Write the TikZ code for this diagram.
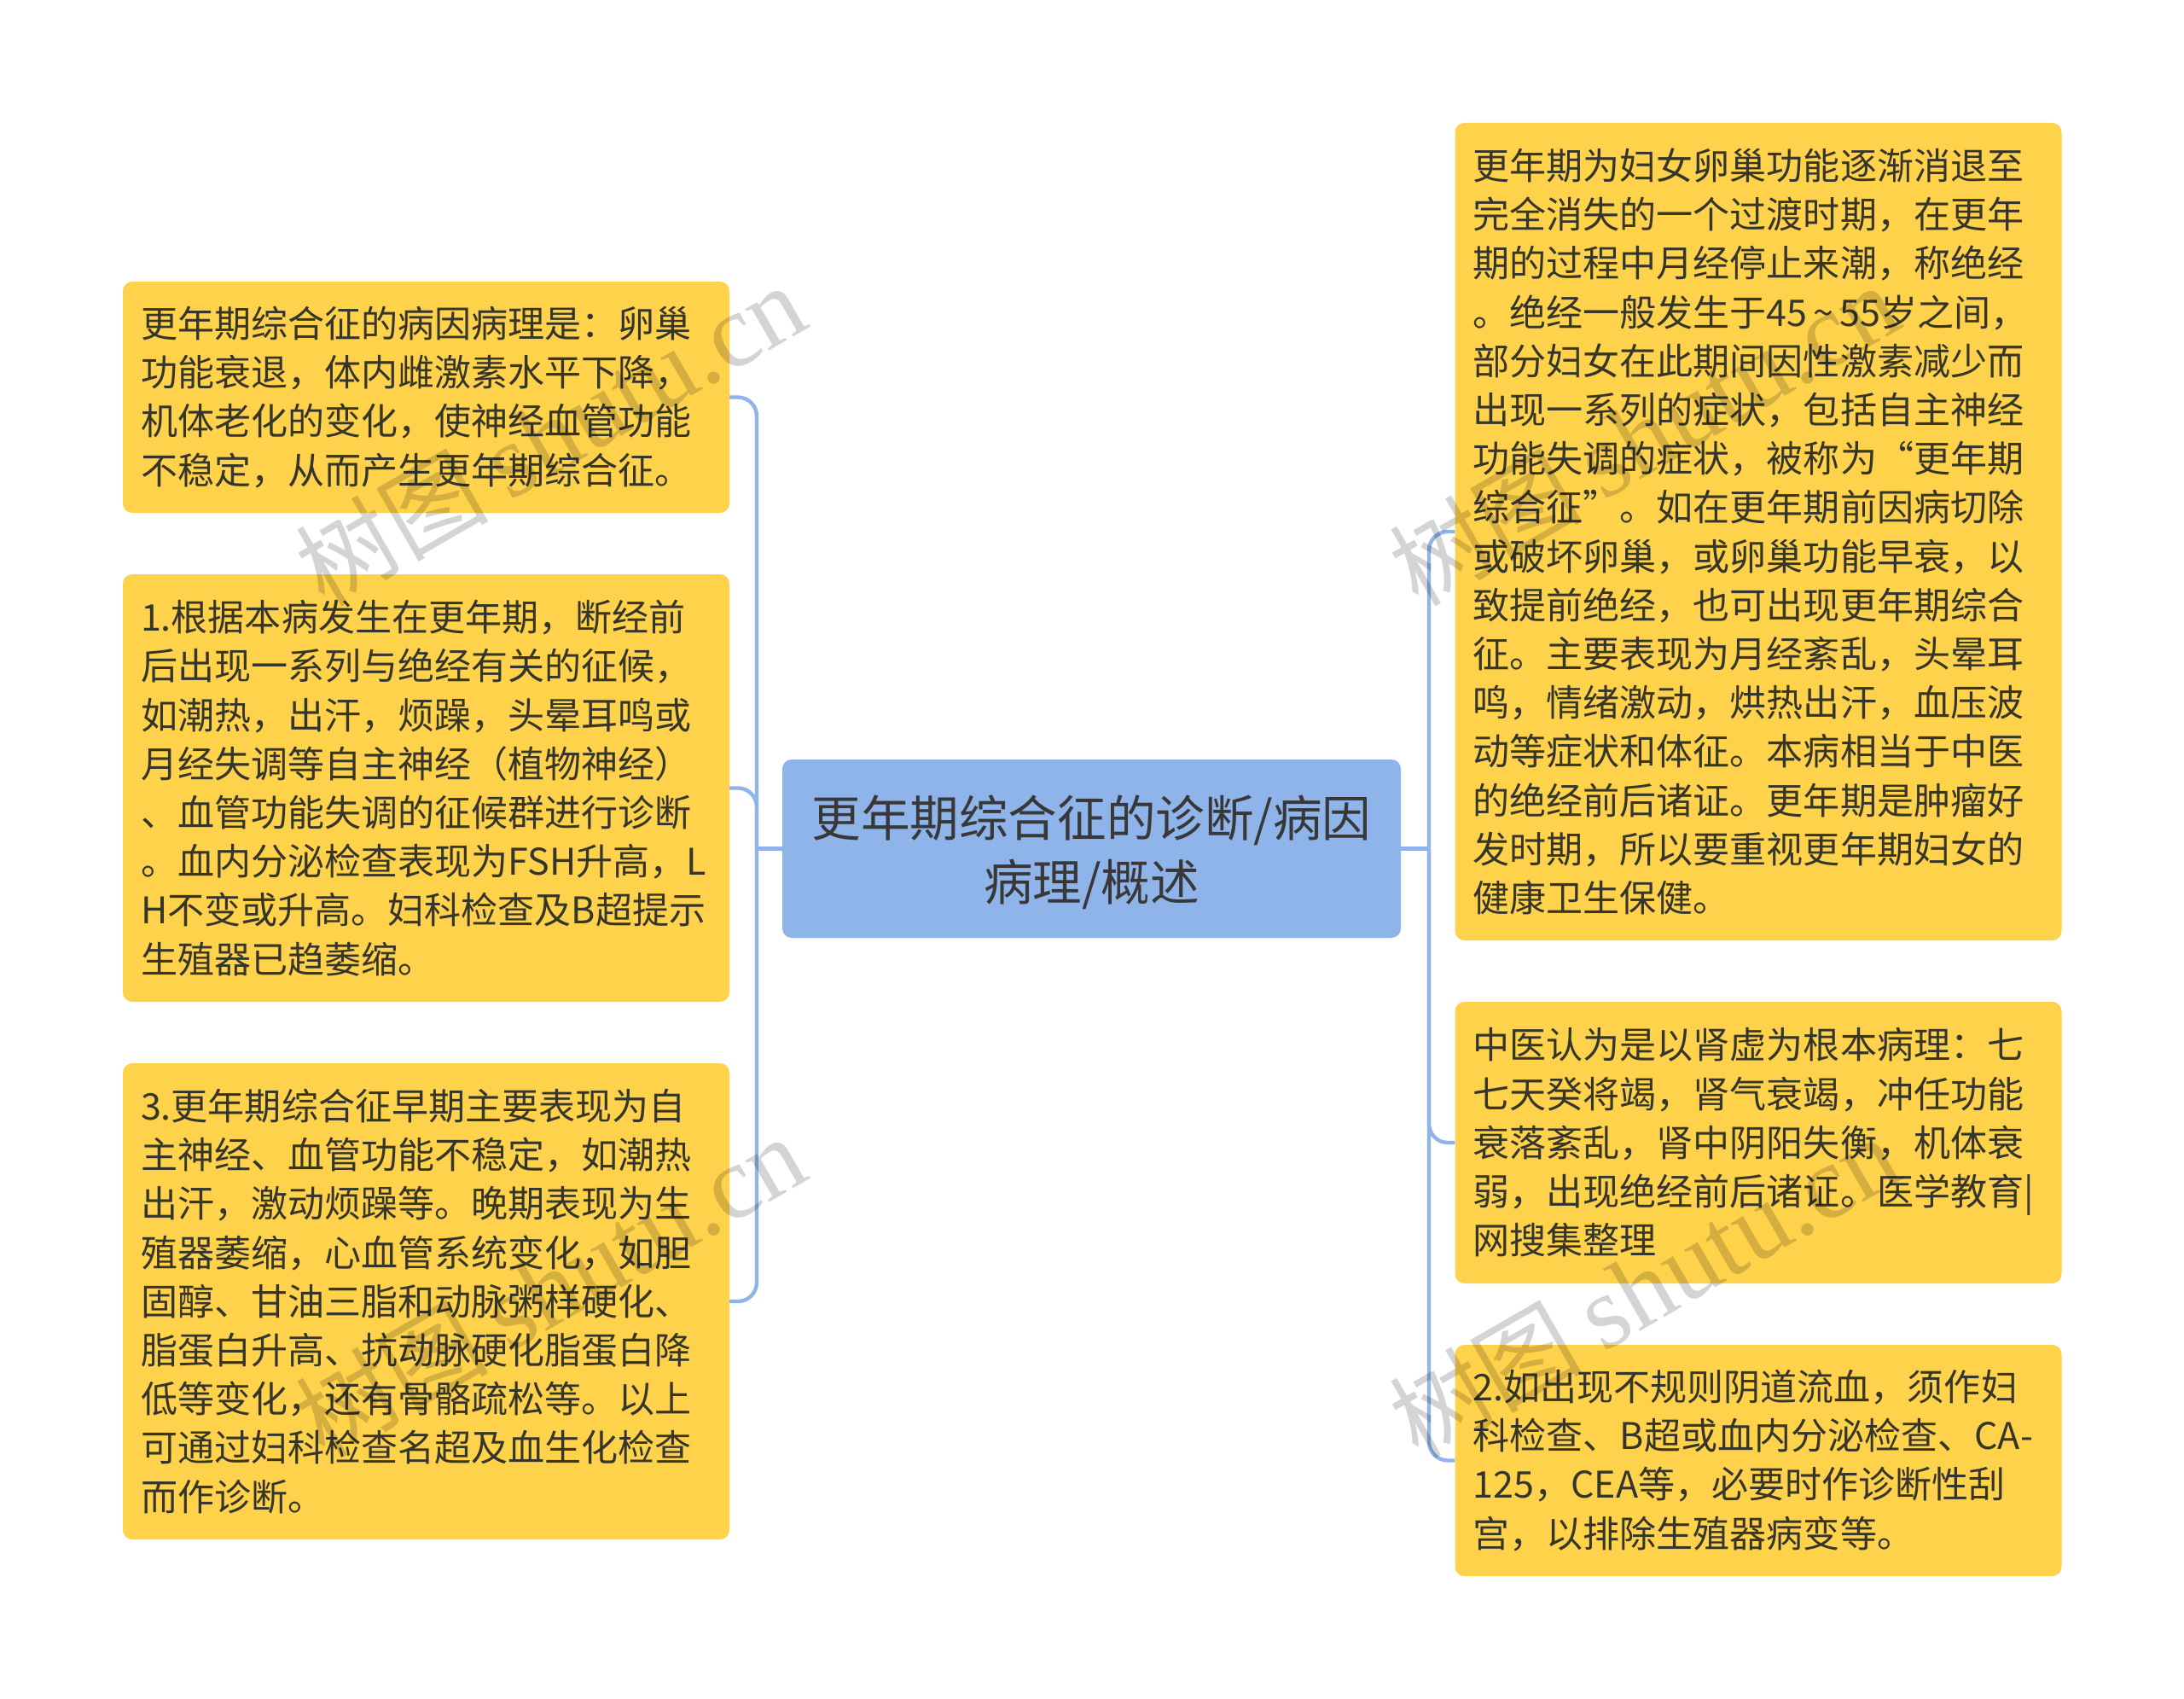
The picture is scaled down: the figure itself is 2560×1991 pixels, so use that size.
\documentclass[tikz,border=0pt]{standalone}
\usepackage{fontspec}
\setmainfont{Noto Sans CJK SC}
\newfontfamily\wmcjk{Noto Sans CJK SC}
\newfontfamily\wmlat{Liberation Serif}
\definecolor{leaf}{HTML}{FFD24C}
\definecolor{rootc}{HTML}{8FB4EA}
\definecolor{inkc}{HTML}{35352A}
\tikzset{
  leafshape/.style={fill=leaf,rounded corners=11pt,inner sep=0pt},
  leafbox/.style={inner sep=0pt,text=inkc,
    font=\fontsize{43.05}{57.2}\selectfont,align=left,text width=669pt},
  rootbox/.style={fill=rootc,rounded corners=11pt,inner sep=0pt,
    minimum width=725pt,minimum height=209pt},
  roottext/.style={inner sep=0pt,text=black!78,
    font=\fontsize{57.6}{75}\selectfont,align=center},
  conn/.style={draw=rootc,line width=4.4pt},
  wm/.style={rotate=30,text=black,opacity=.17,inner sep=0pt},
}
\newcommand{\wmtext}{{\wmcjk\fontsize{113}{113}\selectfont 树图}\hspace{24pt}{\wmlat\fontsize{122}{122}\selectfont shutu.cn}}
\begin{document}
\begin{tikzpicture}[x=1pt,y=-1pt]
\useasboundingbox (0,0) rectangle (2560,1991);
\fill[white] (0,0) rectangle (2560,1991);
\coordinate (tl) at (887,994.5);
\coordinate (tr) at (1675,994.5);
% nodes
\node[rootbox] (c) at (1279.5,994.5) {};
\node[roottext] (ct) at (1279.5,999) {更年期综合征的诊断/病因\\病理/概述};
\node[leafshape,minimum width=711pt,minimum height=271pt] (L1) at (499.5,465.5) {};
\node[leafbox] (L1t) at (L1.center) {更年期综合征的病因病理是：卵巢\\功能衰退，体内雌激素水平下降，\\机体老化的变化，使神经血管功能\\不稳定，从而产生更年期综合征。};
\node[leafshape,minimum width=711pt,minimum height=501pt] (L2) at (499.5,923.5) {};
\node[leafbox] (L2t) at (L2.center) {1.根据本病发生在更年期，断经前\\后出现一系列与绝经有关的征候，\\如潮热，出汗，烦躁，头晕耳鸣或\\月经失调等自主神经（植物神经）\\、血管功能失调的征候群进行诊断\\。血内分泌检查表现为FSH升高，L\\H不变或升高。妇科检查及B超提示\\生殖器已趋萎缩。};
\node[leafshape,minimum width=711pt,minimum height=558pt] (L3) at (499.5,1525) {};
\node[leafbox] (L3t) at (L3.center) {3.更年期综合征早期主要表现为自\\主神经、血管功能不稳定，如潮热\\出汗，激动烦躁等。晚期表现为生\\殖器萎缩，心血管系统变化，如胆\\固醇、甘油三脂和动脉粥样硬化、\\脂蛋白升高、抗动脉硬化脂蛋白降\\低等变化，还有骨骼疏松等。以上\\可通过妇科检查名超及血生化检查\\而作诊断。};
\node[leafshape,minimum width=711pt,minimum height=958pt] (R1) at (2061,623) {};
\node[leafbox] (R1t) at (R1.center) {更年期为妇女卵巢功能逐渐消退至\\完全消失的一个过渡时期，在更年\\期的过程中月经停止来潮，称绝经\\。绝经一般发生于45\,\char"7E\,55岁之间，\\部分妇女在此期间因性激素减少而\\出现一系列的症状，包括自主神经\\功能失调的症状，被称为“更年期\\综合征”。如在更年期前因病切除\\或破坏卵巢，或卵巢功能早衰，以\\致提前绝经，也可出现更年期综合\\征。主要表现为月经紊乱，头晕耳\\鸣，情绪激动，烘热出汗，血压波\\动等症状和体征。本病相当于中医\\的绝经前后诸证。更年期是肿瘤好\\发时期，所以要重视更年期妇女的\\健康卫生保健。};
\node[leafshape,minimum width=711pt,minimum height=330pt] (R2) at (2061,1339) {};
\node[leafbox] (R2t) at (R2.center) {中医认为是以肾虚为根本病理：七\\七天癸将竭，肾气衰竭，冲任功能\\衰落紊乱，肾中阴阳失衡，机体衰\\弱，出现绝经前后诸证。医学教育|\\网搜集整理};
\node[leafshape,minimum width=711pt,minimum height=271pt] (R3) at (2061,1711.5) {};
\node[leafbox] (R3t) at (R3.center) {2.如出现不规则阴道流血，须作妇\\科检查、B超或血内分泌检查、CA-\\125，CEA等，必要时作诊断性刮\\宫，以排除生殖器病变等。};
% connectors
\draw[conn] (c.west) -- (tl);
\draw[conn] (c.east) -- (tr);
\foreach \n in {L1,L2,L3}{\draw[conn,rounded corners=22pt] (tl) |- (\n.east);}
\foreach \n in {R1,R2,R3}{\draw[conn,rounded corners=22pt] (tr) |- (\n.west);}
% watermarks
\node[wm] (w1) at (645,510) {\wmtext};
\node[wm] (w2) at (1927,510) {\wmtext};
\node[wm] (w3) at (645,1508) {\wmtext};
\node[wm] (w4) at (1927,1508) {\wmtext};
\end{tikzpicture}
\end{document}
